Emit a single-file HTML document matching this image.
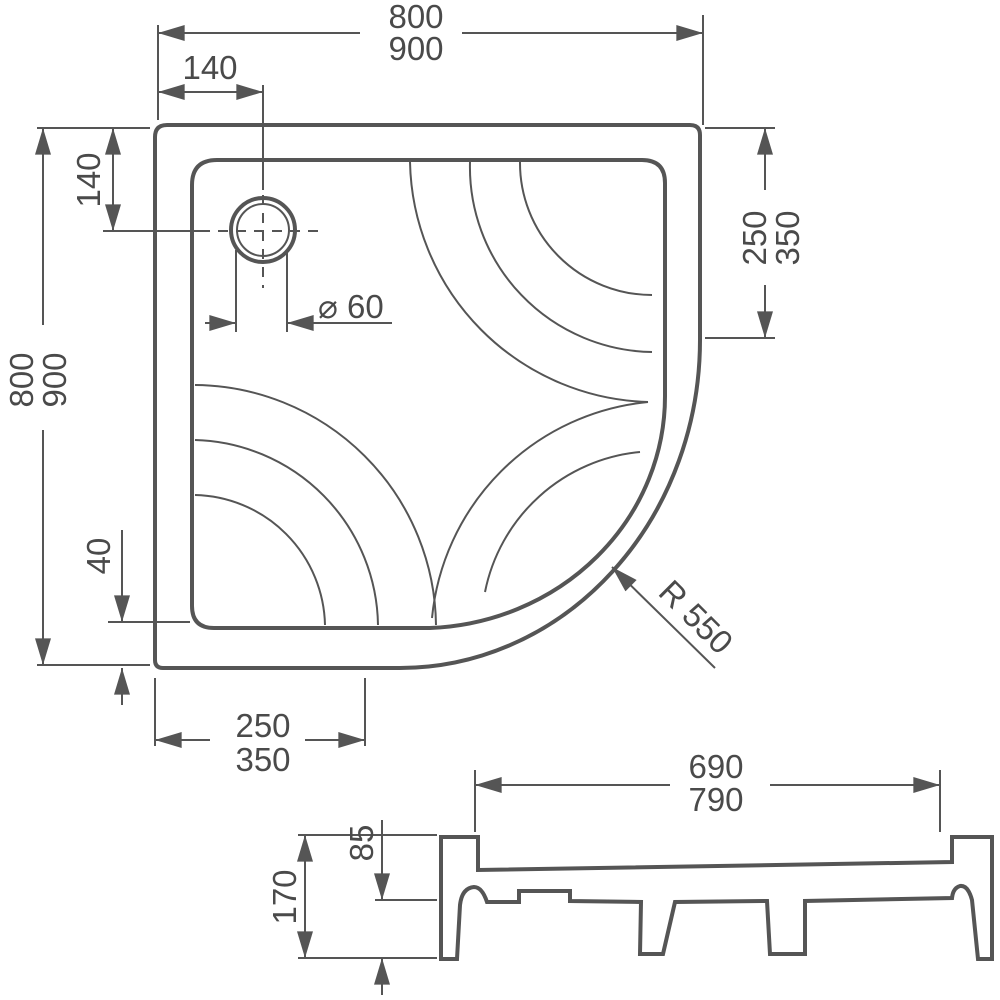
<!DOCTYPE html>
<html><head><meta charset="utf-8"><style>
html,body{margin:0;padding:0;background:#fff}
svg{display:block}
text{font-family:"Liberation Sans",sans-serif;font-size:33px;fill:#4a4a4a}
</style></head><body>
<svg width="1000" height="1000" viewBox="0 0 1000 1000">
<defs>
<marker id="b" viewBox="0 0 20 12" refX="20" refY="6" markerWidth="28" markerHeight="16" orient="auto-start-reverse" markerUnits="userSpaceOnUse">
<path d="M0,0 L20,6 L0,12 z" fill="#555"/></marker>
</defs>
<g fill="none" stroke="#555">
<path d="M155,137 Q155,125 167,125 L690,125 Q700,125 700,135 L700,340 A300 328 0 0 1 400,668 L163,668 Q155,668 155,660 Z" stroke-width="4"/>
<path d="M192,185 Q192,160 217,160 L642,160 Q665,160 665,183 L665,395 A245 232 0 0 1 430,628 L214,628 Q192,628 192,606 Z" stroke-width="4"/>
<g stroke-width="2">
<path d="M410,162 A245 245 0 0 0 648,402"/>
<path d="M470,162 A185 185 0 0 0 652,352"/>
<path d="M520,162 A132 132 0 0 0 652,295"/>
<path d="M195,385 A243 243 0 0 1 436,625"/>
<path d="M195,440 A188 188 0 0 1 378,625"/>
<path d="M195,495 A133 133 0 0 1 325,625"/>
<path d="M648,402 A240 240 0 0 0 432,618"/>
<path d="M640,452 A175 175 0 0 0 485,592"/>
</g>
<circle cx="263" cy="230" r="32" stroke-width="4"/>
<circle cx="263" cy="230" r="26" stroke-width="2"/>
<g stroke-width="2">
<line x1="263" y1="85" x2="263" y2="190"/>
<line x1="263" y1="195" x2="263" y2="288" stroke-dasharray="10,8"/>
<line x1="103" y1="231" x2="200" y2="231"/>
<line x1="200" y1="231" x2="318" y2="231" stroke-dasharray="10,8"/>
<line x1="236" y1="250" x2="236" y2="332"/>
<line x1="287" y1="250" x2="287" y2="332"/>
<line x1="205" y1="323" x2="236" y2="323" marker-end="url(#b)"/>
<line x1="392" y1="323" x2="287" y2="323" marker-end="url(#b)"/>
<line x1="158" y1="25" x2="158" y2="120"/>
<line x1="703" y1="15" x2="703" y2="125"/>
<line x1="360" y1="33" x2="158" y2="33" marker-end="url(#b)"/>
<line x1="462" y1="33" x2="703" y2="33" marker-end="url(#b)"/>
<line x1="158" y1="92" x2="263" y2="92" marker-start="url(#b)" marker-end="url(#b)"/>
<line x1="37" y1="128" x2="150" y2="128"/>
<line x1="37" y1="665" x2="150" y2="665"/>
<line x1="43" y1="325" x2="43" y2="128" marker-end="url(#b)"/>
<line x1="43" y1="430" x2="43" y2="665" marker-end="url(#b)"/>
<line x1="113" y1="128" x2="113" y2="231" marker-start="url(#b)" marker-end="url(#b)"/>
<line x1="108" y1="622" x2="190" y2="622"/>
<line x1="122" y1="530" x2="122" y2="622" marker-end="url(#b)"/>
<line x1="122" y1="705" x2="122" y2="668" marker-end="url(#b)"/>
<line x1="705" y1="128" x2="775" y2="128"/>
<line x1="705" y1="338" x2="775" y2="338"/>
<line x1="765" y1="190" x2="765" y2="128" marker-end="url(#b)"/>
<line x1="765" y1="285" x2="765" y2="338" marker-end="url(#b)"/>
<line x1="155" y1="678" x2="155" y2="746"/>
<line x1="365" y1="678" x2="365" y2="746"/>
<line x1="210" y1="740" x2="155" y2="740" marker-end="url(#b)"/>
<line x1="305" y1="740" x2="365" y2="740" marker-end="url(#b)"/>
<line x1="715" y1="668" x2="612" y2="567" marker-end="url(#b)"/>
<line x1="475" y1="770" x2="475" y2="832"/>
<line x1="940" y1="770" x2="940" y2="832"/>
<line x1="670" y1="785" x2="475" y2="785" marker-end="url(#b)"/>
<line x1="770" y1="785" x2="940" y2="785" marker-end="url(#b)"/>
<line x1="298" y1="835" x2="437" y2="835"/>
<line x1="298" y1="958" x2="437" y2="958"/>
<line x1="305" y1="835" x2="305" y2="958" marker-start="url(#b)" marker-end="url(#b)"/>
<line x1="375" y1="900" x2="437" y2="900"/>
<line x1="382" y1="820" x2="382" y2="900" marker-end="url(#b)"/>
<line x1="382" y1="995" x2="382" y2="958" marker-end="url(#b)"/>
</g>
<path d="M441,837 L478,837 L478,870 L952,862 L952,837 L992,837 L992,959 L978,959 L972,900 Q968,885 960,886 Q953,888 952,898 L805,901 L805,954 L770,954 L767,901 L675,902 L663,954 L640,954 L641,902 L570,901 L570,891 L519,891 L519,902 L487,902 Q482,887 474,887 Q462,888 460,905 L457,959 L441,959 Z" stroke-width="4"/>
</g>
<text x="416" y="28" text-anchor="middle">800</text>
<text x="416" y="60" text-anchor="middle">900</text>
<text x="210" y="79" text-anchor="middle">140</text>
<text x="318" y="318">⌀ 60</text>
<text transform="translate(100,180) rotate(-90)" text-anchor="middle">140</text>
<text transform="translate(33,380) rotate(-90)" text-anchor="middle">800</text>
<text transform="translate(66,380) rotate(-90)" text-anchor="middle">900</text>
<text transform="translate(110,556) rotate(-90)" text-anchor="middle">40</text>
<text transform="translate(766,238) rotate(-90)" text-anchor="middle">250</text>
<text transform="translate(799,238) rotate(-90)" text-anchor="middle">350</text>
<text x="263" y="737" text-anchor="middle">250</text>
<text x="263" y="771" text-anchor="middle">350</text>
<text transform="translate(688,625) rotate(45)" text-anchor="middle">R 550</text>
<text x="716" y="778" text-anchor="middle">690</text>
<text x="716" y="811" text-anchor="middle">790</text>
<text transform="translate(296,897) rotate(-90)" text-anchor="middle">170</text>
<text transform="translate(373,843) rotate(-90)" text-anchor="middle">85</text>
</svg>
</body></html>
